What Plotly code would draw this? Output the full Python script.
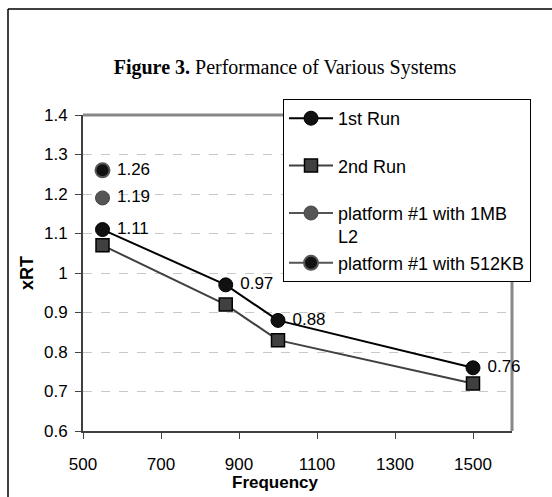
import plotly.graph_objects as go

freq = [550, 866, 1000, 1500]
run1 = [1.11, 0.97, 0.88, 0.76]
run2 = [1.07, 0.92, 0.83, 0.72]
p1mb_x = [550]
p1mb_y = [1.19]
p512_x = [550]
p512_y = [1.26]
run1_labels = ["1.11", "0.97", "0.88", "0.76"]
p1mb_labels = ["1.19"]
p512_labels = ["1.26"]
xticks = [500, 700, 900, 1100, 1300, 1500]
yticks = [0.6, 0.7, 0.8, 0.9, 1.0, 1.1, 1.2, 1.3, 1.4]
yticklabels = ["0.6", "0.7", "0.8", "0.9", "1", "1.1", "1.2", "1.3", "1.4"]

SANS = "Liberation Sans, Arial, sans-serif"
SERIF = "Liberation Serif, Times New Roman, serif"
lblfont = dict(family=SANS, size=17, color="#000")

fig = go.Figure()
fig.add_trace(go.Scatter(
    x=freq, y=run1, name="1st Run", mode="lines+markers+text",
    text=[" " + t for t in run1_labels], textposition="middle right", textfont=lblfont,
    line=dict(color="#000000", width=2),
    marker=dict(symbol="circle", size=14, color="#111111", line=dict(color="#000", width=1)),
    legendgroup="a", cliponaxis=False))
fig.add_trace(go.Scatter(
    x=freq, y=run2, name="2nd Run", mode="lines+markers",
    line=dict(color="#404040", width=2),
    marker=dict(symbol="square", size=13, color="#404040", line=dict(color="#000", width=1.5)),
    legendgroup="b", cliponaxis=False))
fig.add_trace(go.Scatter(
    x=p1mb_x, y=p1mb_y, name="platform #1 with 1MB<br>L2", mode="lines+markers+text",
    text=[" " + t for t in p1mb_labels], textposition="middle right", textfont=lblfont,
    line=dict(color="#555555", width=2),
    marker=dict(symbol="circle", size=14, color="#555555", line=dict(color="#444", width=1)),
    legendgroup="c", cliponaxis=False))
fig.add_trace(go.Scatter(
    x=p512_x, y=p512_y, name="platform #1 with 512KB", mode="lines+markers+text",
    text=[" " + t for t in p512_labels], textposition="middle right", textfont=lblfont,
    line=dict(color="#555555", width=2),
    marker=dict(symbol="circle", size=14, color="#111111", line=dict(color="#555", width=2)),
    legendgroup="c", cliponaxis=False))

W, H = 552, 497
ml, mr, mt, mb = 83, 40, 115, 66
pw, ph = W - ml - mr, H - mt - mb

def px_x(x):
    return (x - ml) / pw

def px_y(y):
    return (H - mb - y) / ph

fig.update_layout(
    width=W, height=H,
    margin=dict(l=ml, r=mr, t=mt, b=mb, pad=0),
    paper_bgcolor="white", plot_bgcolor="white",
    title=dict(text="<b>Figure 3.</b> Performance of Various Systems",
               font=dict(family=SERIF, size=20, color="#000"),
               x=285 / W, xanchor="center", y=1 - 67 / H, yanchor="middle"),
    xaxis=dict(range=[500, 1600], tickvals=xticks, ticks="outside", ticklen=6,
               tickcolor="#404040", showline=True, linecolor="#404040", linewidth=2,
               showgrid=False, zeroline=False, ticklabelstandoff=11,
               tickfont=dict(family=SANS, size=17, color="#000")),
    yaxis=dict(range=[0.6, 1.4], tickvals=yticks, ticktext=yticklabels, ticks="outside", ticklen=6,
               tickcolor="#404040", showline=True, linecolor="#404040", linewidth=2,
               showgrid=True, gridcolor="#c8c8c8", griddash="dash", gridwidth=1, zeroline=False,
               ticklabelstandoff=4,
               tickfont=dict(family=SANS, size=17, color="#000"),
               title=dict(text="<b>xRT</b>", font=dict(family=SANS, size=18, color="#000"), standoff=6)),
    legend=dict(x=px_x(283), y=px_y(99), xanchor="left", yanchor="top",
                bgcolor="white", bordercolor="#000", borderwidth=1,
                font=dict(family=SANS, size=18, color="#000"),
                traceorder="grouped", tracegroupgap=21, itemwidth=44, valign="top"),
    showlegend=True,
)

fig.add_annotation(text="<b>Frequency</b>", xref="paper", yref="paper",
                   x=px_x(275), y=px_y(482), xanchor="center", yanchor="middle",
                   showarrow=False, font=dict(family=SANS, size=17, color="#000"))

# plot-area frame (top and right gray)
fig.add_shape(type="line", xref="paper", yref="paper", x0=0, x1=1, y0=1, y1=1,
              line=dict(color="#888888", width=3), layer="below")
fig.add_shape(type="line", xref="paper", yref="paper", x0=1, x1=1, y0=0, y1=1,
              line=dict(color="#888888", width=3), layer="below")
# outer chart border (left and top visible)
fig.add_shape(type="line", xref="paper", yref="paper", x0=px_x(8), x1=px_x(8),
              y0=px_y(H), y1=px_y(9), line=dict(color="#000", width=1.5))
fig.add_shape(type="line", xref="paper", yref="paper", x0=px_x(8), x1=px_x(W),
              y0=px_y(9), y1=px_y(9), line=dict(color="#000", width=1.5))

fig.write_html("out.html")
